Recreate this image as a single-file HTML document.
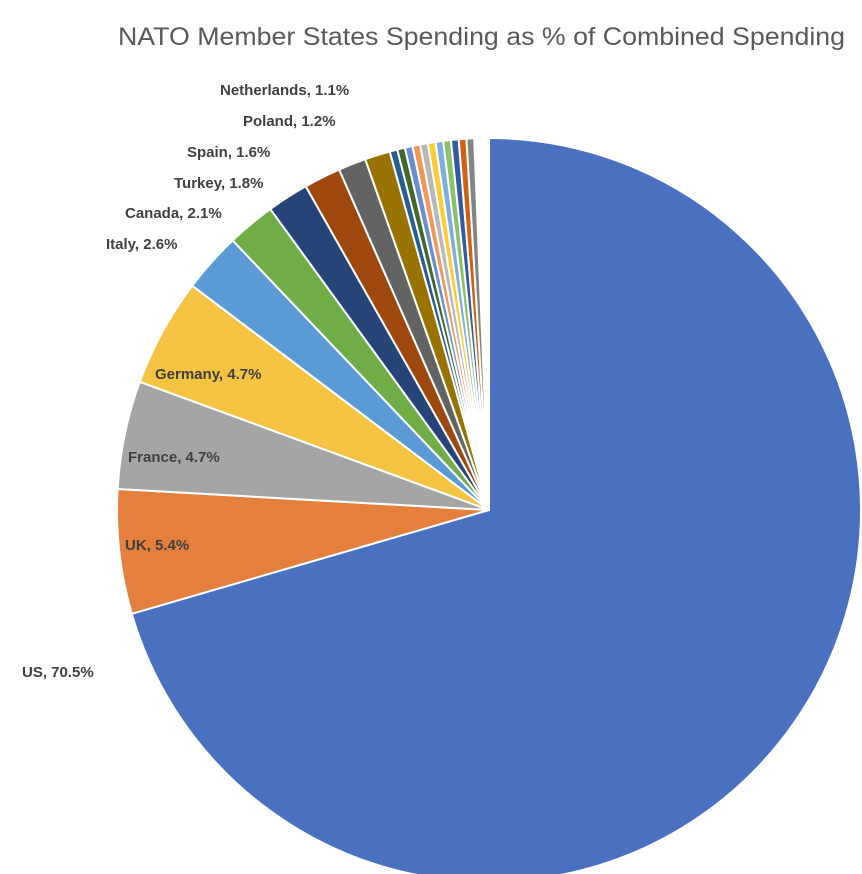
<!DOCTYPE html>
<html><head><meta charset="utf-8"><style>
body{margin:0;background:#fff;}
svg{display:block;font-family:"Liberation Sans",sans-serif;}
.l{font-weight:bold;font-size:15px;fill:#404040;}
</style></head><body>
<svg id="s" width="862" height="874" xmlns="http://www.w3.org/2000/svg">
<text x="118" y="45" textLength="727" lengthAdjust="spacingAndGlyphs" font-size="25" fill="#595959">NATO Member States Spending as % of Combined Spending</text>
<g id="p"></g>
<text class="l" x="220" y="95">Netherlands, 1.1%</text>
<text class="l" x="243" y="126">Poland, 1.2%</text>
<text class="l" x="187" y="157">Spain, 1.6%</text>
<text class="l" x="174" y="188">Turkey, 1.8%</text>
<text class="l" x="125" y="218">Canada, 2.1%</text>
<text class="l" x="106" y="249">Italy, 2.6%</text>
<text class="l" x="155" y="379">Germany, 4.7%</text>
<text class="l" x="128" y="462">France, 4.7%</text>
<text class="l" x="125" y="550">UK, 5.4%</text>
<text class="l" x="22" y="677">US, 70.5%</text>
</svg>
<script>
var cx=489,cy=510,r=372;
var d=[[70.5,"#4A70C0"],[5.4,"#E47F3E"],[4.7,"#A5A5A5"],[4.7,"#F5C342"],[2.6,"#5B9BD5"],[2.1,"#70AD47"],[1.8,"#264478"],[1.6,"#9E480E"],[1.2,"#636363"],[1.1,"#997300"]];
var sm=["#255E91","#43682B","#698ED0","#F1975A","#B7B7B7","#FFCD33","#7CAFDD","#8CC168","#335AA1","#D26012","#848484"];
var a=0,h="";
function pt(t){t=t*Math.PI/180;return (cx+r*Math.sin(t)).toFixed(2)+","+(cy-r*Math.cos(t)).toFixed(2);}
function sl(a0,a1,c){h+='<path d="M'+cx+','+cy+' L'+pt(a0)+' A'+r+','+r+' 0 '+((a1-a0)>180?1:0)+' 1 '+pt(a1)+' Z" fill="'+c+'" stroke="#fff" stroke-width="2"/>';}
d.forEach(function(e){var b=a+e[0]*3.6;sl(a,b,e[1]);a=b;});
sm.forEach(function(c){var b=a+1.2;sl(a,b,c);a=b;});
document.getElementById("p").innerHTML=h;
</script>
</body></html>
